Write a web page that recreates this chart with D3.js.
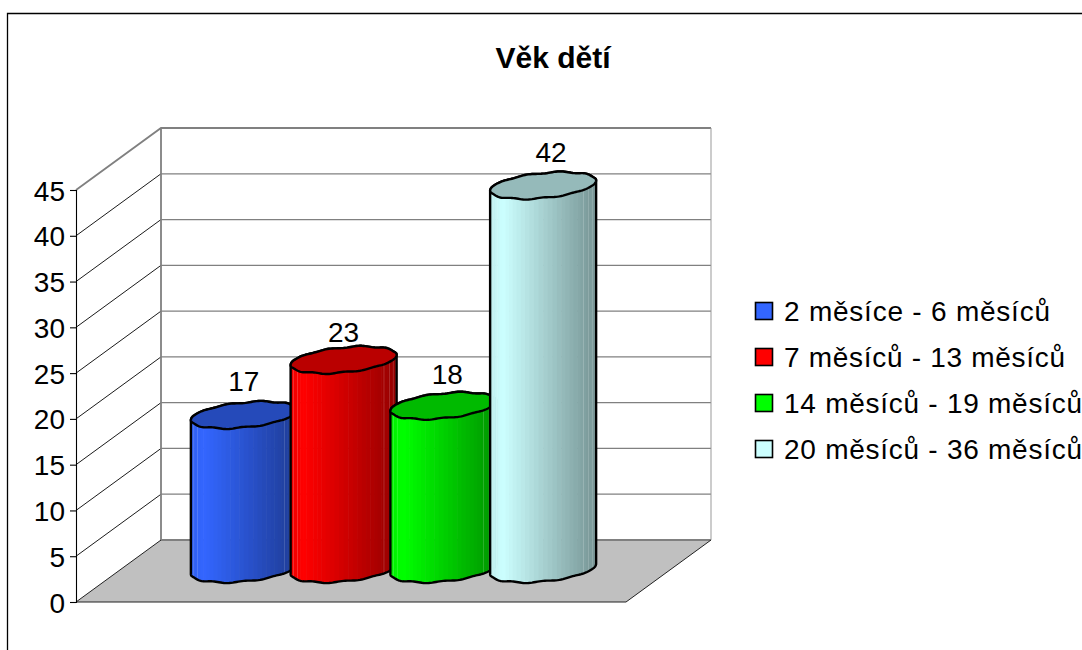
<!DOCTYPE html>
<html><head><meta charset="utf-8">
<script src="https://cdn.jsdelivr.net/npm/d3@7"></script>
<style>html,body{margin:0;padding:0;background:#fff}svg{display:block}text{font-family:"Liberation Sans",Arial,sans-serif;fill:#000}</style>
</head><body><svg id="c" width="1082" height="650"></svg>
<script>
const title = "Věk dětí";
const categories = ["2 měsíce - 6 měsíců","7 měsíců - 13 měsíců","14 měsíců - 19 měsíců","20 měsíců - 36 měsíců"];
const values = [17,23,18,42];
const colors = ["#3366ff","#ff0000","#00ff00","#ccffff"];
const yTicks = [0,5,10,15,20,25,30,35,40,45];

const svg = d3.select("#c");
const depthX = 85, depthY = -62;
const frontL = 76, frontR = 626;
const y = d3.scaleLinear().domain([0,45]).range([602,190]);
const yMid = d3.scaleLinear().domain([0,45]).range([571,158]);
const x = d3.scaleBand().domain(categories).range([194,593]);

svg.append("path").attr("d","M7.5,650V13.5H1082").attr("fill","none").attr("stroke","#000").attr("stroke-width",1.3);

const bx = frontL+depthX, brx = frontR+depthX;
svg.append("path").attr("d",`M${frontL},${y(0)}L${frontL},${y(45)}L${bx},${y(45)+depthY}L${brx},${y(45)+depthY}L${brx},${y(0)+depthY}L${bx},${y(0)+depthY}Z`).attr("fill","#fff");
svg.append("path").attr("d",`M${frontL},${y(0)}L${bx},${y(0)+depthY}L${brx},${y(0)+depthY}L${frontR},${y(0)}Z`).attr("fill","#c0c0c0");
yTicks.slice(1,-1).forEach(t=>{
  svg.append("line").attr("x1",frontL).attr("y1",y(t)).attr("x2",bx).attr("y2",y(t)+depthY).attr("stroke","#000").attr("stroke-width",0.9);
  svg.append("line").attr("x1",bx).attr("y1",y(t)+depthY).attr("x2",brx).attr("y2",y(t)+depthY).attr("stroke","#808080").attr("stroke-width",1.2);
});
svg.append("path").attr("d",`M${frontL},${y(45)}L${bx},${y(45)+depthY}L${brx},${y(45)+depthY}M${bx},${y(45)+depthY}L${bx},${y(0)+depthY}L${brx},${y(0)+depthY}`).attr("fill","none").attr("stroke","#808080").attr("stroke-width",1.8);
svg.append("line").attr("x1",brx).attr("x2",brx).attr("y1",y(45)+depthY).attr("y2",y(0)+depthY).attr("stroke","#999").attr("stroke-width",1);
svg.append("path").attr("d",`M${frontL},${y(0)}L${bx},${y(0)+depthY}M${frontL},${y(0)}L${frontR},${y(0)}L${brx},${y(0)+depthY}`).attr("fill","none").attr("stroke","#222").attr("stroke-width",1);

const ax = svg.append("g").attr("transform",`translate(${frontL},0)`).call(d3.axisLeft(y).tickValues(yTicks).tickSize(6).tickPadding(5));
ax.selectAll("path,line").attr("stroke","#000").attr("stroke-width",1.1);
ax.selectAll("text").attr("font-size",28).attr("font-family",'"Liberation Sans"').attr("fill","#000").attr("dy","0.36em");

const rx = 53, ry = 12.5, tilt = 5, wob = 0.05, sides = 10, baseLift = 2, strokeW = 2.4;
function rim(cx, cy, t0, t1, n){
  const pts = [];
  for(let i=0;i<=n;i++){
    const t = t0+(t1-t0)*i/n;
    const k = 1+wob*Math.cos(sides*t);
    pts.push([cx+rx*Math.cos(t), cy+k*(ry*Math.sin(t)-tilt*Math.cos(t))]);
  }
  return pts;
}
const line = d3.line().curve(d3.curveLinear);
const defs = svg.append("defs");
categories.forEach((c,i)=>{
  const cx = x(c)+x.bandwidth()/2, topY = yMid(values[i]), baseY = yMid(0)-baseLift;
  const bodyPts = rim(cx,baseY,0,Math.PI,90).concat(rim(cx,topY,Math.PI,2*Math.PI,90));
  const col = d3.rgb(colors[i]);
  const g = svg.append("g");
  const id = "clip"+i;
  defs.append("clipPath").attr("id",id).append("path").attr("d",line(bodyPts)+"Z");
  const strips = 36;
  const shade = d3.scaleLinear().domain([0,0.12,1]).range([0.93,1,0.58]);
  const body = g.append("g").attr("clip-path",`url(#${id})`);
  d3.range(strips).forEach(s=>{
    const a0 = Math.PI*(1-s/strips), a1 = Math.PI*(1-(s+1)/strips);
    const x0 = cx+rx*Math.cos(a0), x1 = cx+rx*Math.cos(a1);
    const f = shade(((x0+x1)/2-(cx-rx))/(2*rx));
    body.append("rect").attr("x",x0).attr("width",x1-x0+0.6).attr("y",topY-30).attr("height",baseY-topY+60).attr("fill",d3.rgb(col.r*f,col.g*f,col.b*f));
    if(s===3||s===5||s===27||s===29||s===31||s===33){
      body.append("line").attr("x1",x1).attr("x2",x1).attr("y1",topY-30).attr("y2",baseY+30).attr("stroke","#fff").attr("stroke-opacity",0.32).attr("stroke-width",1);
    }
  });
  g.append("path").attr("d",line(bodyPts)+"Z").attr("fill","none").attr("stroke","#000").attr("stroke-width",strokeW).attr("stroke-linejoin","round");
  const f = 0.73;
  g.append("path").attr("d",line(rim(cx,topY,0,2*Math.PI,180))+"Z")
    .attr("fill",d3.rgb(col.r*f,col.g*f,col.b*f)).attr("stroke","#000").attr("stroke-width",strokeW).attr("stroke-linejoin","round");
});
const labelGap = [24,18,22,24];
categories.forEach((c,i)=>{
  const cx = x(c)+x.bandwidth()/2 + Math.max(0,i-1)*4;
  svg.append("text").attr("x",cx).attr("y",yMid(values[i])-labelGap[i]).attr("text-anchor","middle").attr("font-size",28).text(values[i]);
});

svg.append("text").attr("x",553).attr("y",68).attr("text-anchor","middle").attr("font-size",30).attr("font-weight","bold").text(title);

const ly = d3.scalePoint().domain(categories).range([311,449]);
const legendWidths = [266,281,298,298];
categories.forEach((c,i)=>{
  svg.append("rect").attr("x",755.5).attr("y",ly(c)-8.5).attr("width",17).attr("height",17).attr("fill",colors[i]).attr("stroke","#000").attr("stroke-width",1.6);
  svg.append("text").attr("x",784).attr("y",ly(c)+10).attr("font-size",28).attr("textLength",legendWidths[i]).text(c);
});
</script></body></html>
